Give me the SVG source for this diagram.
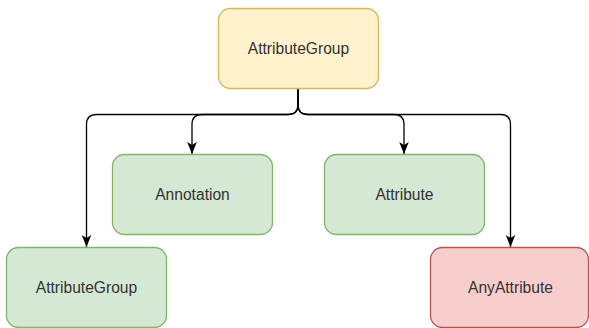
<svg xmlns="http://www.w3.org/2000/svg" width="589" height="328" viewBox="0 0 589 328">
  <style>
    .box { stroke-width: 1.3; }
    .yellow { fill: #fff2cc; stroke: #d6b656; }
    .green { fill: #d5e8d4; stroke: #82b366; }
    .red { fill: #f8cecc; stroke: #b85450; }
    .label { font-family: "Liberation Sans", Arial, sans-serif; font-size: 15.6px; fill: #333333; text-anchor: middle; dominant-baseline: central; }
    .edge { fill: none; stroke: #000000; stroke-width: 1.3; marker-end: url(#arrow); }
  </style>
  <defs>
    <marker id="arrow" markerUnits="userSpaceOnUse" markerWidth="12" markerHeight="10" viewBox="0 0 10 8" refX="10" refY="4" orient="auto">
      <path d="M0,0 L10,4 L0,8 L2.5,4 Z" fill="#000000"/>
    </marker>
  </defs>

  <!-- connectors -->
  <g id="connectors">
    <path class="edge" d="M298 88 V104.5 Q298 114.5 288 114.5 H96.5 Q86.5 114.5 86.5 124.5 V247"/>
    <path class="edge" d="M298 88 V104.5 Q298 114.5 288 114.5 H202 Q192 114.5 192 124.5 V154"/>
    <path class="edge" d="M298 88 V104.5 Q298 114.5 308 114.5 H394 Q404 114.5 404 124.5 V154"/>
    <path class="edge" d="M298 88 V104.5 Q298 114.5 308 114.5 H500.5 Q510.5 114.5 510.5 124.5 V247"/>
  </g>

  <!-- nodes -->
  <g id="root-attribute-group">
    <rect class="box yellow" x="218.5" y="8.5" width="160" height="80" rx="12" ry="12"/>
    <text class="label" x="298.5" y="48">AttributeGroup</text>
  </g>
  <g id="annotation">
    <rect class="box green" x="112.5" y="154.5" width="160" height="80" rx="12" ry="12"/>
    <text class="label" x="192.5" y="194">Annotation</text>
  </g>
  <g id="attribute">
    <rect class="box green" x="324.5" y="154.5" width="160" height="80" rx="12" ry="12"/>
    <text class="label" x="404.5" y="194">Attribute</text>
  </g>
  <g id="child-attribute-group">
    <rect class="box green" x="6.5" y="247.5" width="160" height="80" rx="12" ry="12"/>
    <text class="label" x="86.5" y="287">AttributeGroup</text>
  </g>
  <g id="any-attribute">
    <rect class="box red" x="430.5" y="247.5" width="158" height="80" rx="12" ry="12"/>
    <text class="label" x="510.5" y="287">AnyAttribute</text>
  </g>
</svg>
